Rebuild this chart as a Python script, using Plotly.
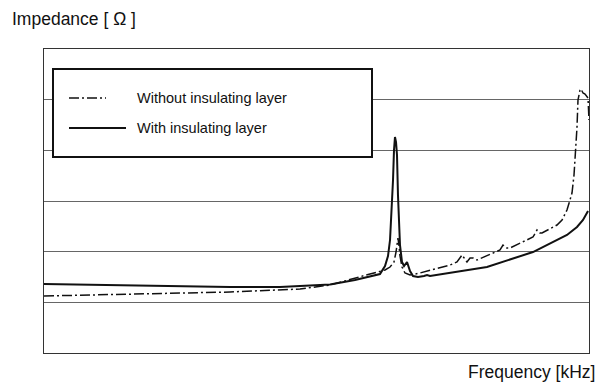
import plotly.graph_objects as go

# Frequency axis (arbitrary, normalised 0-100) and impedance (arbitrary units, 0-6)
freq_with = [0, 10.28, 19.45, 34.13, 43.30, 52.48, 57.06, 59.82, 61.65, 62.57, 63.12,
             63.49, 63.85, 64.04, 64.22, 64.40, 64.59, 64.77, 64.95, 65.14, 65.32,
             65.69, 66.06, 66.61, 67.16, 67.71, 68.62, 69.72, 70.28, 70.83, 74.50,
             81.28, 89.72, 95.96, 97.80, 98.90, 99.82]
imp_with = [1.362, 1.342, 1.322, 1.303, 1.303, 1.352, 1.441, 1.520, 1.559, 1.717, 1.914,
            2.230, 2.921, 3.414, 4.006, 4.263, 4.164, 3.908, 3.118, 2.526, 2.131,
            1.796, 1.717, 1.796, 1.618, 1.520, 1.500, 1.520, 1.539, 1.520, 1.579,
            1.697, 1.993, 2.329, 2.487, 2.625, 2.802]

freq_without = [0, 10.28, 19.45, 34.13, 46.97, 52.48, 59.82, 62.57, 63.49, 64.22, 64.59,
                64.77, 64.95, 65.14, 65.32, 65.69, 66.24, 67.16, 68.99, 74.50, 75.78,
                76.70, 77.25, 77.61, 78.17, 78.72, 79.45, 81.83, 83.67, 84.22, 84.95,
                85.50, 87.34, 89.72, 90.46, 91.01, 91.38, 94.13, 95.05, 95.96, 96.51,
                96.88, 97.25, 97.43, 97.61, 97.80, 97.98, 98.35, 98.53, 98.90, 99.27,
                99.45, 99.63, 99.82, 100.0]
imp_without = [1.125, 1.145, 1.164, 1.204, 1.263, 1.342, 1.559, 1.638, 1.697, 1.796, 1.993,
               2.171, 2.270, 2.112, 1.914, 1.697, 1.579, 1.539, 1.579, 1.737, 1.796,
               1.934, 1.835, 1.796, 1.875, 1.875, 1.835, 1.954, 2.033, 2.131, 2.072,
               2.072, 2.171, 2.289, 2.427, 2.368, 2.368, 2.526, 2.625, 2.822, 3.020,
               3.158, 3.513, 3.809, 4.204, 4.460, 4.993, 5.190, 5.210, 5.131, 5.111,
               5.092, 5.052, 5.033, 4.598]

series_names = ["Without insulating layer", "With insulating layer"]
y_title = "Impedance [ Ω ]"
x_title = "Frequency [kHz]"

DASHDOT = "10px,3px,2px,3px"
FONT = "Liberation Sans, Arial, sans-serif"

fig = go.Figure()
fig.add_trace(go.Scatter(x=freq_without, y=imp_without, mode="lines",
                         name=series_names[0], showlegend=False,
                         line=dict(color="#111", width=1.5, dash=DASHDOT)))
fig.add_trace(go.Scatter(x=freq_with, y=imp_with, mode="lines",
                         name=series_names[1], showlegend=False,
                         line=dict(color="#111", width=2)))

# Plot area in pixels: left 44, right 589, top 49, bottom 353
L, R, T, B = 44, 589, 49, 353
def px(x):
    return (x - L) / (R - L)
def py(y):
    return (B - y) / (B - T)

shapes = [
    dict(type="rect", xref="paper", yref="paper", x0=px(53), x1=px(372), y0=py(157), y1=py(69),
         line=dict(color="#111", width=2), fillcolor="white", layer="above"),
    dict(type="line", xref="paper", yref="paper", x0=px(69), x1=px(106), y0=py(98), y1=py(98),
         line=dict(color="#111", width=1.5, dash=DASHDOT), layer="above"),
    dict(type="line", xref="paper", yref="paper", x0=px(69), x1=px(126), y0=py(128), y1=py(128),
         line=dict(color="#111", width=2), layer="above"),
]

annotations = [
    dict(text=series_names[0], xref="paper", yref="paper", x=px(135), y=py(98),
         xanchor="left", yanchor="middle", showarrow=False,
         font=dict(family=FONT, size=14.5, color="#111")),
    dict(text=series_names[1], xref="paper", yref="paper", x=px(135), y=py(128),
         xanchor="left", yanchor="middle", showarrow=False,
         font=dict(family=FONT, size=14.5, color="#111")),
    dict(text=y_title, xref="paper", yref="paper", x=px(10), y=py(19),
         xanchor="left", yanchor="middle", showarrow=False,
         font=dict(family=FONT, size=17.5, color="#111")),
    dict(text=x_title, xref="paper", yref="paper", x=px(597), y=py(372),
         xanchor="right", yanchor="middle", showarrow=False,
         font=dict(family=FONT, size=17.5, color="#111")),
]

fig.update_layout(
    width=603, height=386,
    margin=dict(l=L, r=603 - R, t=T, b=386 - B, pad=0),
    paper_bgcolor="white", plot_bgcolor="white",
    showlegend=False,
    shapes=shapes, annotations=annotations,
    font=dict(family=FONT, color="#111"),
)
fig.update_xaxes(range=[0, 100], showticklabels=False, showgrid=False, zeroline=False,
                 showline=True, mirror=True, linecolor="#333", linewidth=1, ticks="")
fig.update_yaxes(range=[0, 6], dtick=1, showticklabels=False, showgrid=True,
                 gridcolor="#666", gridwidth=1, zeroline=False,
                 showline=True, mirror=True, linecolor="#333", linewidth=1, ticks="")

fig.write_html("out.html", config={"displayModeBar": False, "staticPlot": True})

# remove default page margin so the 603x386 figure fills the window exactly
with open("out.html", "r", encoding="utf-8") as f:
    html = f.read()
html = html.replace("<head>", "<head><style>html,body{margin:0;padding:0;overflow:hidden;}</style>", 1)
with open("out.html", "w", encoding="utf-8") as f:
    f.write(html)
